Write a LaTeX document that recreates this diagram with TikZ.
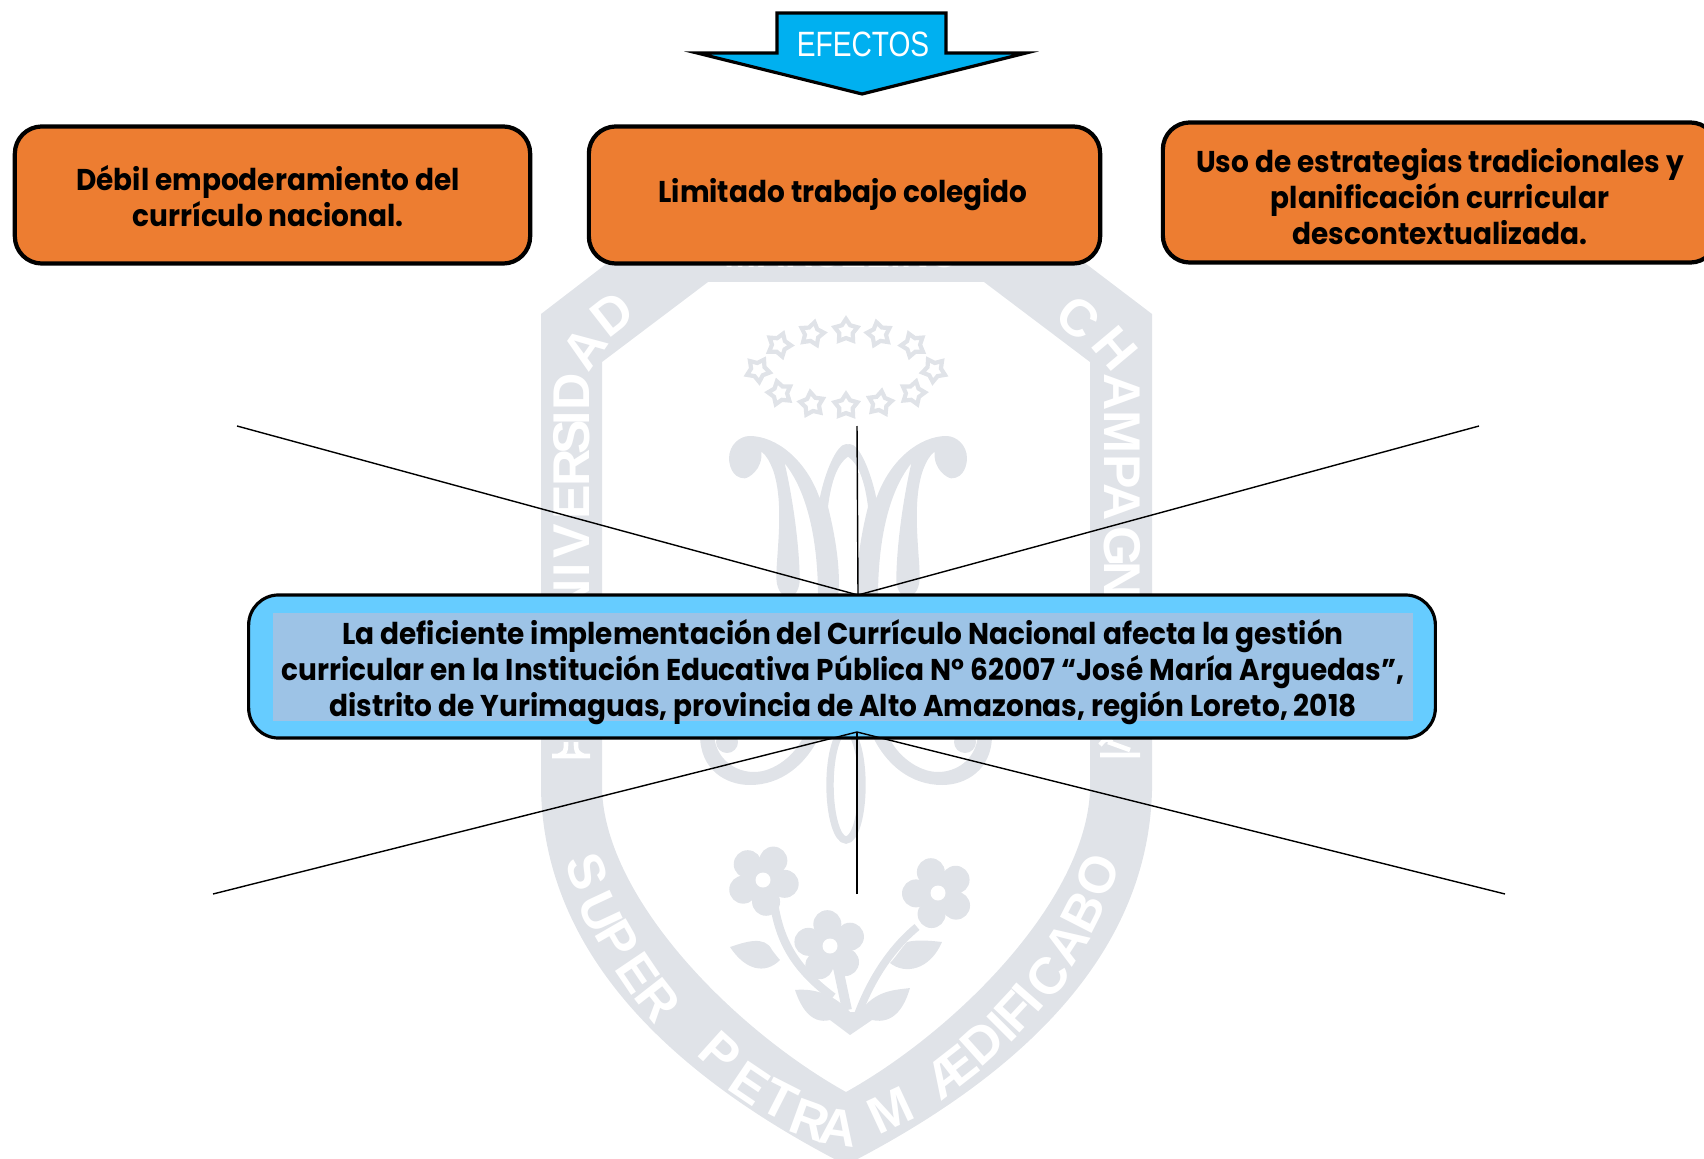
\documentclass[tikz,border=0pt]{standalone}
\usepackage{fontspec}
\setmainfont{Poppins}[FakeStretch=0.93]
\newfontfamily\sealfont{Liberation Sans}
\newfontfamily\bannerfont{Liberation Sans}
\usetikzlibrary{shapes.geometric}
\definecolor{sealgrey}{HTML}{E0E3E8}
\definecolor{effectorange}{HTML}{ED7D31}
\definecolor{problemblue}{HTML}{66CCFF}
\definecolor{problemfill}{HTML}{9DC3E6}
\definecolor{bannerblue}{HTML}{00B0F0}
\tikzset{
	effectbox/.style={draw=black, fill=effectorange, line width=1.2pt, rounded corners=0.27cm},
	boldtext/.style={inner sep=0pt, align=center, font=\fontsize{8.55}{10.25}\selectfont\bfseries},
	sealletter/.style={text=white, inner sep=0pt, font=\sealfont\fontsize{14.7}{15}\selectfont\bfseries},
	sealstar/.style={draw=sealgrey, line width=1.2pt, star, star points=5, star point ratio=1.7, minimum size=0.24cm, inner sep=0pt},
	thinline/.style={line width=0.4pt}
}
\def\sealflower(#1,#2)(#3){
	\foreach \petal in {0,72,144,216,288}
		\fill[sealgrey] (#1,#2) ++({\petal+#3}:22) ellipse (14 and 14);
	\fill[sealgrey] (#1,#2) circle (14);
	\fill[white] (#1,#2) circle (7.5);
}
\def\halfmonogram{
	\fill[sealgrey] (-260,95) .. controls (-255,150) and (-300,175) .. (-310,175)
		.. controls (-350,175) and (-357,130) .. (-357,115)
		.. controls (-357,75) and (-325,48) .. (-295,48)
		.. controls (-215,48) and (-125,120) .. (-85,235)
		.. controls (-70,160) and (-35,72) .. (-5,72)
		.. controls (5,72) and (15,85) .. (25,100) -- (0,110)
		.. controls (-30,130) and (-50,180) .. (-60,260)
		.. controls (-40,340) and (-20,450) .. (-30,530) -- (-90,530)
		.. controls (-90,400) and (-110,230) .. (-190,130)
		.. controls (-160,260) and (-145,400) .. (-145,480)
		.. controls (-145,500) and (-155,530) .. (-175,530)
		.. controls (-205,530) and (-215,500) .. (-215,470)
		.. controls (-215,400) and (-190,250) .. (-225,150)
		.. controls (-235,125) and (-245,105) .. (-260,95) -- cycle;
}
\def\halfswirl{
	\fill[sealgrey] (-146,735) .. controls (-146,770) and (-120,785) .. (-96,785)
		.. controls (-65,785) and (-40,765) .. (-26,735) -- (-42,735)
		.. controls (-50,755) and (-72,772) .. (-92,772)
		.. controls (-110,772) and (-130,760) .. (-132,735) -- cycle;
	\fill[sealgrey] (-119,742) circle (11);
	\fill[white] (-76,768) .. controls (-60,760) and (-50,750) .. (-43,735) -- (-52,735) .. controls (-58,748) and (-66,758) .. (-76,768) -- cycle;
}

\begin{document}
\begin{tikzpicture}[x=0.01cm, y=-0.01cm]
			%%%%% START %%%%%
			\useasboundingbox (0, 0) rectangle (1704, 1158);
			
			% seal behind the boxes
			\fill[sealgrey, even odd rule] (541, 314) -- (640, 238) -- (1052, 238) -- (1152, 314) -- (1152, 790)
				.. controls (1148, 960) and (1012, 1080) .. (846, 1165)
				.. controls (680, 1080) and (545, 960) .. (541, 790) -- cycle
				(602, 362) -- (708, 282) -- (984, 282) -- (1090, 362) -- (1090, 790)
				.. controls (1086, 900) and (957, 1030) .. (846, 1092)
				.. controls (735, 1030) and (606, 900) .. (602, 790) -- cycle;
			
			\foreach \ltr/\lx/\ly/\lr in {U/572/632/90, N/572/598/90, I/572/570/90, V/572/541/90, E/572/502/90, R/572/468/90, S/572/437/90, I/572/418/90, D/572/392/90, A/585/348/55, D/612/314/38,
				C/1078/318/-40, H/1115/348/-50, A/1122/392/-90, M/1122/432/-90, P/1122/472/-90, A/1122/502/-90, G/1122/547/-90, N/1122/580/-90,
				S/587/872/-70, U/600/912/-65, P/618/940/-60, E/638/973/-56, R/658/1000/-52, P/720/1053/-42, E/750/1083/-34, T/780/1100/-27, R/810/1120/-20, A/838/1127/-8, M/890/1110/25,
				Æ/951/1072/38, D/982/1043/42, I/1002/1027/45, F/1015/1012/47, I/1028/997/49, C/1048/977/52, A/1067/943/57, B/1083/912/63, O/1098/875/68}
				\node[sealletter, rotate=\lr] (seal\lx\ly) at (\lx, \ly) {\ltr};
			\node[sealletter, anchor=base, font=\sealfont\fontsize{11}{11}\selectfont\bfseries] (sealtop) at (842, 268) {MARCELINO};
			
			\draw[white, line width=1.3pt] (552, 756) -- (590, 756) (558, 756) .. controls (566, 752) .. (566, 742) (584, 756) .. controls (576, 752) .. (576, 742);
			\draw[white, line width=1.3pt] (1100, 755) -- (1140, 755) (1108, 742) -- (1130, 750) (1100, 745) .. controls (1106, 738) .. (1112, 742);
			
			\foreach \sx/\sy/\sr in {846/331/0, 812/334/-12, 879/334/12, 779/345/-20, 913/345/20, 758/370/-30, 934/370/30, 780/393/15, 913/393/-15, 812/404/8, 846/406/0, 880/403/-8}
				\node[sealstar, rotate=\sr] (star\sx\sy) at (\sx, \sy) {};
			
			\begin{scope}[shift={(848, 420)}, xscale=0.3333, yscale=0.3333]
				\halfmonogram
			\end{scope}
			\begin{scope}[shift={(848, 420)}, xscale=-0.3333, yscale=0.3333]
				\halfmonogram
			\end{scope}
			
			\begin{scope}[shift={(846, 0)}]
				\halfswirl
			\end{scope}
			\begin{scope}[shift={(846, 0)}, xscale=-1]
				\halfswirl
			\end{scope}
			\draw[sealgrey, line width=2.1pt] (846, 785) ellipse (16 and 55);
			
			\sealflower(763,880)(10)
			\sealflower(830,946)(-25)
			\sealflower(938,893)(35)
			\draw[sealgrey, line width=2.4pt] (773, 897) .. controls (778, 935) and (790, 965) .. (833, 997);
			\draw[sealgrey, line width=2.8pt] (837, 963) -- (847, 1010);
			\draw[sealgrey, line width=2.2pt] (917, 927) .. controls (895, 945) and (872, 975) .. (857, 1017);
			\fill[sealgrey] (730, 947) .. controls (745, 942) and (765, 935) .. (772, 950) .. controls (778, 958) and (780, 960) .. (780, 960) .. controls (765, 975) and (745, 970) .. (730, 947) -- cycle;
			\fill[sealgrey] (795, 990) .. controls (815, 988) and (835, 995) .. (850, 1012) -- (860, 1012) .. controls (875, 990) and (895, 990) .. (910, 988) .. controls (905, 1005) and (895, 1025) .. (872, 1020) -- (850, 1035) -- (830, 1020) .. controls (810, 1025) and (800, 1005) .. (795, 990) -- cycle;
			\fill[sealgrey] (942, 942) .. controls (925, 940) and (915, 940) .. (907, 942) .. controls (900, 950) and (895, 958) .. (890, 963) .. controls (905, 975) and (930, 970) .. (942, 942) -- cycle;
			
			% effects banner
			\draw[fill=bannerblue, line width=0.9pt, miter limit=20] (697, 53) -- (777, 53) -- (777, 13) -- (946, 13) -- (946, 53) -- (1026, 53) -- (862, 94) -- cycle;
			\node[text=white, inner sep=0pt] (efectos) at (863, 44) {\bannerfont\fontsize{10}{10}\selectfont\scalebox{0.8}[1]{EFECTOS}};
			
			% the three effects
			\node[effectbox, minimum width=5.15cm, minimum height=1.37cm] (debil) at (272.5, 195) {};
			\node[boldtext] at (268, 196) (debiltxt) {Débil empoderamiento del\\currículo nacional.};
			\node[effectbox, minimum width=5.11cm, minimum height=1.37cm] (limitado) at (844.5, 195) {};
			\node[boldtext] at (843, 195) (limitadotxt) {Limitado trabajo colegido};
			\node[effectbox, minimum width=5.54cm, minimum height=1.40cm] (estrategias) at (1440, 192.5) {};
			\node[boldtext] at (1440, 197) (estrategiastxt) {Uso de estrategias tradicionales y\\planificación curricular\\descontextualizada.};
			
			% central problem
			\node[draw=black, fill=problemblue, line width=0.9pt, rounded corners=0.3cm, minimum width=11.86cm, minimum height=1.43cm] (problema) at (842, 666.5) {};
			\node[fill=problemfill, inner sep=0pt, minimum width=11.4cm, minimum height=1.07cm] (franja) at (843, 667) {};
			\node[boldtext] (enunciado) at (843, 672) {La deficiente implementación del Currículo Nacional afecta la gestión\\curricular en la Institución Educativa Pública N° 62007 “José María Arguedas”,\\distrito de Yurimaguas, provincia de Alto Amazonas, región Loreto, 2018};
			
			\coordinate (apexup) at (858, 595);
			\coordinate (apexdown) at (857, 732);
			\coordinate (upleft) at (237, 426);
			\coordinate (upmid) at (857, 426);
			\coordinate (upright) at (1479, 426);
			\coordinate (downleft) at (213, 894);
			\coordinate (downmid) at (857, 894);
			\coordinate (downright) at (1505, 894);
			
			\draw[thinline] (upleft) -- (apexup);
			\draw[thinline] (upmid) -- (apexup);
			\draw[thinline] (upright) -- (apexup);
			\draw[thinline] (downleft) -- (apexdown);
			\draw[thinline] (downmid) -- (apexdown);
			\draw[thinline] (downright) -- (apexdown);
			%%%%% END %%%%%
		\end{tikzpicture}
\end{document}
